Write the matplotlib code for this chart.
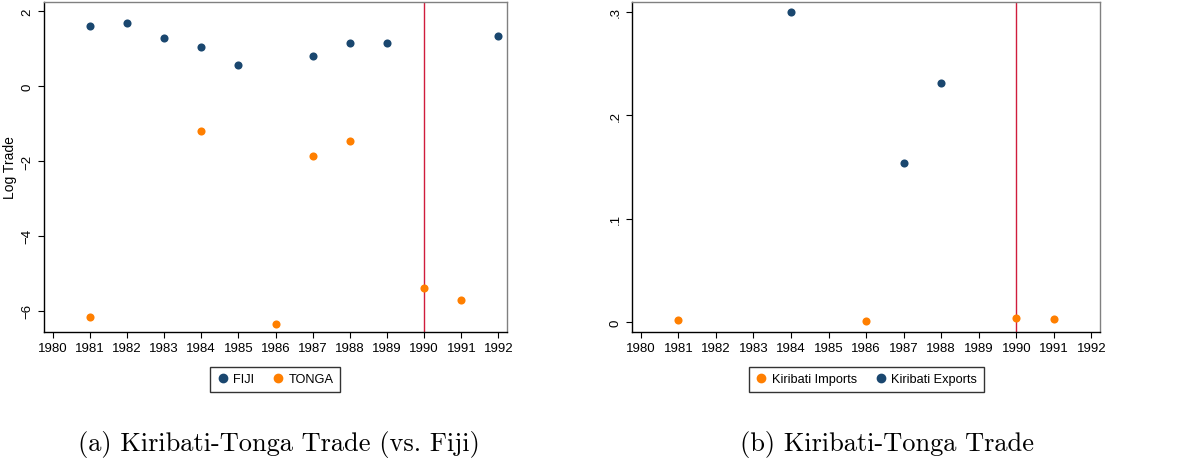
import matplotlib
matplotlib.use('Agg')
import matplotlib.pyplot as plt
from matplotlib.lines import Line2D

# values
years_fiji = [1981, 1982, 1983, 1984, 1985, 1987, 1988, 1989, 1992]
fiji = [1.62, 1.68, 1.29, 1.04, 0.57, 0.82, 1.15, 1.16, 1.35]
years_tonga = [1981, 1984, 1986, 1987, 1988, 1990, 1991]
tonga = [-6.16, -1.21, -6.35, -1.87, -1.47, -5.39, -5.72]

years_exp = [1984, 1987, 1988]
kir_exports = [0.300, 0.154, 0.231]
years_imp = [1981, 1986, 1990, 1991]
kir_imports = [0.0019, 0.0013, 0.0042, 0.0029]

xticks = list(range(1980, 1993))
event_year = 1990

NAVY = '#1a476f'
ORANGE = '#ff7f00'
RED = '#d01c3c'

plt.rcParams['font.family'] = ['Liberation Sans', 'DejaVu Sans']

fig = plt.figure(figsize=(11.8, 4.64), dpi=100)
ax1 = fig.add_axes([0.0373, 0.2823, 0.3924, 0.7112])
ax2 = fig.add_axes([0.5358, 0.2823, 0.3964, 0.7112])


def style(ax):
    ax.set_xlim(1979.77, 1992.23)
    ax.set_xticks(xticks)
    ax.set_xticklabels([str(y) for y in xticks], fontsize=9.5)
    ax.tick_params(axis='both', direction='out', length=4, width=0.8, colors='black')
    ax.tick_params(axis='y', labelsize=9.5)
    for lab in ax.get_yticklabels():
        lab.set_rotation(90)
        lab.set_va('center')
    for s in ax.spines.values():
        s.set_linewidth(1.0)
        s.set_color('black')
    ax.spines['top'].set_color('#808080')
    ax.spines['right'].set_color('#808080')
    ax.axvline(event_year, color=RED, linewidth=1.0, zorder=1)


# panel (a)
ax1.scatter(years_fiji, fiji, s=34, color=NAVY, zorder=3, linewidths=0)
ax1.scatter(years_tonga, tonga, s=34, color=ORANGE, zorder=3, linewidths=0)
ax1.set_ylim(-6.57, 2.25)
ax1.set_yticks([2, 0, -2, -4, -6])
ax1.set_yticklabels(['2', '0', '\u22122', '\u22124', '\u22126'])
ax1.set_ylabel('Log Trade', fontsize=10, labelpad=3)
style(ax1)

h1 = [Line2D([], [], marker='o', ls='', color=NAVY, markersize=6),
      Line2D([], [], marker='o', ls='', color=ORANGE, markersize=6)]
leg1 = fig.legend(h1, ['FIJI', 'TONGA'], loc='center', bbox_to_anchor=(0.233, 0.180),
                  ncol=2, fontsize=9.2, frameon=True, fancybox=False, edgecolor='black',
                  handletextpad=0.3, columnspacing=1.4, borderpad=0.5, handlelength=1.0)
leg1.get_frame().set_linewidth(1.0)

# panel (b)
ax2.scatter(years_imp, kir_imports, s=34, color=ORANGE, zorder=3, linewidths=0)
ax2.scatter(years_exp, kir_exports, s=34, color=NAVY, zorder=3, linewidths=0)
ax2.set_ylim(-0.0093, 0.3093)
ax2.set_yticks([0, 0.1, 0.2, 0.3])
ax2.set_yticklabels(['0', '.1', '.2', '.3'])
style(ax2)

h2 = [Line2D([], [], marker='o', ls='', color=ORANGE, markersize=6),
      Line2D([], [], marker='o', ls='', color=NAVY, markersize=6)]
leg2 = fig.legend(h2, ['Kiribati Imports', 'Kiribati Exports'], loc='center',
                  bbox_to_anchor=(0.734, 0.180), ncol=2, fontsize=9.2, frameon=True,
                  fancybox=False, edgecolor='black', handletextpad=0.3,
                  columnspacing=1.4, borderpad=0.5, handlelength=1.0)
leg2.get_frame().set_linewidth(1.0)

# captions
cap_font = ['cmr10', 'DejaVu Serif']
fig.text(0.236, 0.043, '(a) Kiribati-Tonga Trade (vs. Fiji)', ha='center', va='center',
         fontsize=19, family=cap_font)
fig.text(0.752, 0.043, '(b) Kiribati-Tonga Trade', ha='center', va='center',
         fontsize=19, family=cap_font)

fig.savefig('out.png', dpi=100)
